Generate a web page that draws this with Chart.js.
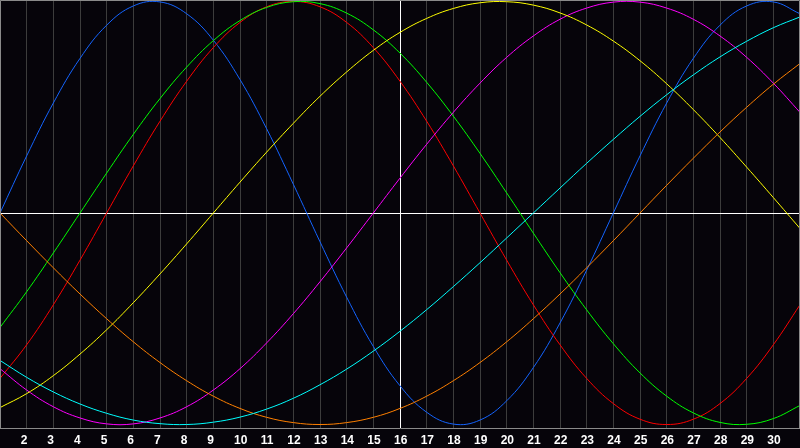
<!DOCTYPE html>
<html><head><meta charset="utf-8">
<script src="https://cdn.jsdelivr.net/npm/chart.js@4/dist/chart.umd.min.js"></script>
<style>html,body{margin:0;padding:0;background:#06040a;overflow:hidden}#wrap{width:800px;height:448px}</style>
</head><body><div id="wrap"><canvas id="c" width="800" height="448"></canvas></div>
<script>
const days = [1,2,3,4,5,6,7,8,9,10,11,12,13,14,15,16,17,18,19,20,21,22,23,24,25,26,27,28,29,30,31];
const today = 16;
const physical = [0.000,0.270,0.520,0.731,0.888,0.979,0.998,0.942,0.817,0.631,0.398,0.136,-0.136,-0.398,-0.631,-0.817,
  -0.942,-0.998,-0.979,-0.888,-0.731,-0.520,-0.270,0.000,0.270,0.520,0.731,0.888,0.979,0.998,0.942];
const emotional = [-0.782,-0.623,-0.434,-0.223,0.000,0.223,0.434,0.623,0.782,0.901,0.975,1.000,0.975,0.901,0.782,0.623,
  0.434,0.223,0.000,-0.223,-0.434,-0.623,-0.782,-0.901,-0.975,-1.000,-0.975,-0.901,-0.782,-0.623,-0.434];
const intellectual = [-0.541,-0.372,-0.189,0.000,0.189,0.372,0.541,0.690,0.815,0.910,0.972,0.999,0.990,0.945,0.866,0.756,
  0.618,0.458,0.282,0.095,-0.095,-0.282,-0.458,-0.618,-0.756,-0.866,-0.945,-0.990,-0.999,-0.972,-0.910];
const intuitive = [-0.736,-0.837,-0.916,-0.969,-0.997,-0.997,-0.969,-0.916,-0.837,-0.736,-0.614,-0.476,-0.325,-0.165,0.000,0.165,
  0.325,0.476,0.614,0.736,0.837,0.916,0.969,0.997,0.997,0.969,0.916,0.837,0.736,0.614,0.476];
const aesthetic = [-0.920,-0.854,-0.769,-0.667,-0.552,-0.424,-0.288,-0.146,0.000,0.146,0.288,0.424,0.552,0.667,0.769,0.854,
  0.920,0.967,0.994,0.999,0.983,0.946,0.889,0.813,0.720,0.611,0.489,0.357,0.217,0.073,-0.073];
const awareness = [0.000,-0.131,-0.259,-0.383,-0.500,-0.609,-0.707,-0.793,-0.866,-0.924,-0.966,-0.991,-1.000,-0.991,-0.966,-0.924,
  -0.866,-0.793,-0.707,-0.609,-0.500,-0.383,-0.259,-0.131,0.000,0.131,0.259,0.383,0.500,0.609,0.707];
const spiritual = [-0.697,-0.777,-0.846,-0.903,-0.947,-0.979,-0.996,-1.000,-0.989,-0.965,-0.927,-0.876,-0.812,-0.738,-0.653,-0.559,
  -0.457,-0.348,-0.235,-0.118,0.000,0.118,0.235,0.348,0.457,0.559,0.653,0.738,0.812,0.876,0.927];

const series = [
  {name:'Spiritual', data:spiritual, color:'#00ffff'},
  {name:'Awareness', data:awareness, color:'#ff8000'},
  {name:'Aesthetic', data:aesthetic, color:'#ffff00'},
  {name:'Intuitive', data:intuitive, color:'#ff00ff'},
  {name:'Intellectual', data:intellectual, color:'#00ff00'},
  {name:'Emotional', data:emotional, color:'#ff0000'},
  {name:'Physical', data:physical, color:'#1464ff'}
];

const frame = {
  id:'frame',
  afterDraw(chart){
    const a = chart.chartArea, c = chart.ctx;
    c.save();
    c.strokeStyle = '#8a8a8a'; c.lineWidth = 1;
    c.beginPath();
    c.moveTo(0.5, a.bottom + 0.5); c.lineTo(0.5, 0.5); c.lineTo(799.5, 0.5); c.lineTo(799.5, a.bottom + 0.5);
    c.stroke();
    c.restore();
  }
};

new Chart(document.getElementById('c'), {
  type:'line',
  data:{
    datasets: series.map(s => ({
      label:s.name,
      data: days.map((d,i) => ({x:d, y:s.data[i]})),
      borderColor:s.color, borderWidth:1, pointRadius:0, pointHoverRadius:0, tension:0.4, fill:false
    }))
  },
  options:{
    responsive:false, animation:false,
    layout:{padding:0, autoPadding:false},
    plugins:{legend:{display:false}, title:{display:false}, tooltip:{enabled:false}},
    scales:{
      x:{
        type:'linear', min:1, max:31,
        afterBuildTicks: s => { s.ticks = days.map(d => ({value:d})); },
        afterFit: s => { s.height = 20; s.paddingLeft = 0; s.paddingRight = 0; },
        grid:{ color: ctx => (ctx.tick && ctx.tick.value === today) ? '#ffffff' : '#3c3c3c', lineWidth:1, drawTicks:false },
        border:{ display:true, color:'#8a8a8a', width:1 },
        ticks:{
          autoSkip:false, maxRotation:0, align:'start', labelOffset:-6, padding:5,
          color:'#ffffff', font:{family:'"Liberation Sans", Arial, sans-serif', size:12, weight:'bold'},
          callback: v => (v >= 2 && v <= 30) ? String(v) : ''
        }
      },
      y:{
        type:'linear', min:-1.0165, max:1.0071,
        afterBuildTicks: s => { s.ticks = [{value:0}]; },
        afterFit: s => { s.width = 0; s.paddingTop = 0; s.paddingBottom = 0; },
        grid:{ color:'#ffffff', lineWidth:1, drawTicks:false },
        border:{ display:false },
        ticks:{ display:false }
      }
    }
  },
  plugins:[frame]
});
</script>
</body></html>
